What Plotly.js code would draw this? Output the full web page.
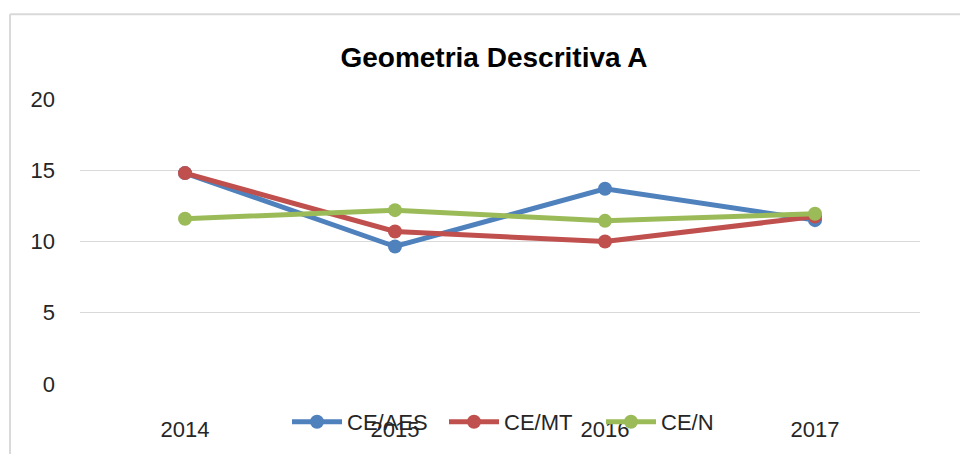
<!DOCTYPE html>
<html>
<head>
<meta charset="utf-8">
<script src="https://cdn.plot.ly/plotly-3.0.1.min.js"></script>
<style>html,body{margin:0;padding:0;background:#fff;}#chart{width:960px;height:454px;}</style>
</head>
<body>
<div id="chart"></div>
<script>
const years = ['2014', '2015', '2016', '2017'];
const seriesNames = ['CE/AES', 'CE/MT', 'CE/N'];
const ceAes = [14.8, 9.65, 13.7, 11.5];
const ceMt = [14.8, 10.7, 10.0, 11.75];
const ceN = [11.6, 12.2, 11.45, 11.95];
const yTicks = [0, 5, 10, 15, 20];
const colors = ['#4F81BD', '#C0504D', '#9BBB59'];

const allValues = [ceAes, ceMt, ceN];
const traces = allValues.map((vals, i) => ({
  type: 'scatter',
  mode: 'lines+markers',
  x: years,
  y: vals,
  name: seriesNames[i],
  line: {color: colors[i], width: 5},
  marker: {color: colors[i], size: 14}
}));

const FONT = 'Liberation Sans, Arial, sans-serif';
const layout = {
  width: 960, height: 454,
  margin: {l: 80, r: 40, t: 99, b: 69},
  paper_bgcolor: '#ffffff',
  plot_bgcolor: '#ffffff',
  font: {family: FONT, color: '#262626', size: 22},
  title: {
    text: 'Geometria Descritiva A',
    font: {family: FONT, size: 28, color: '#000000', weight: 'bold'},
    x: 494 / 960, xanchor: 'center', xref: 'container',
    y: 1 - 57 / 454, yanchor: 'middle', yref: 'container'
  },
  xaxis: {
    type: 'category',
    range: [-0.5, 3.5],
    showgrid: false, zeroline: false, showline: false,
    ticks: '', ticklabelstandoff: 30,
    tickfont: {family: FONT, size: 22, color: '#262626'},
    fixedrange: true
  },
  yaxis: {
    range: [0, 20],
    tickvals: yTicks,
    showgrid: true, gridcolor: '#D9D9D9', gridwidth: 1.3,
    zeroline: false, showline: false,
    ticks: '', ticklabelstandoff: 24,
    tickfont: {family: FONT, size: 22, color: '#262626'},
    fixedrange: true
  },
  showlegend: true,
  legend: {
    orientation: 'h',
    x: (287 - 80) / 840, xanchor: 'left',
    y: -37 / 286, yanchor: 'middle',
    bgcolor: 'rgba(0,0,0,0)',
    itemwidth: 50,
    entrywidth: 92,
    font: {family: FONT, size: 22, color: '#262626'}
  },
  shapes: [
    {type: 'line', xref: 'paper', yref: 'paper', x0: -70 / 840, x1: -70 / 840, y0: 371 / 286, y1: -0.4, line: {color: '#D9D9D9', width: 2}},
    {type: 'line', xref: 'paper', yref: 'paper', x0: -70 / 840, x1: 1.2, y0: 371 / 286, y1: 371 / 286, line: {color: '#D9D9D9', width: 2}}
  ]
};

Plotly.newPlot('chart', traces, layout, {staticPlot: true, displayModeBar: false});
</script>
</body>
</html>
